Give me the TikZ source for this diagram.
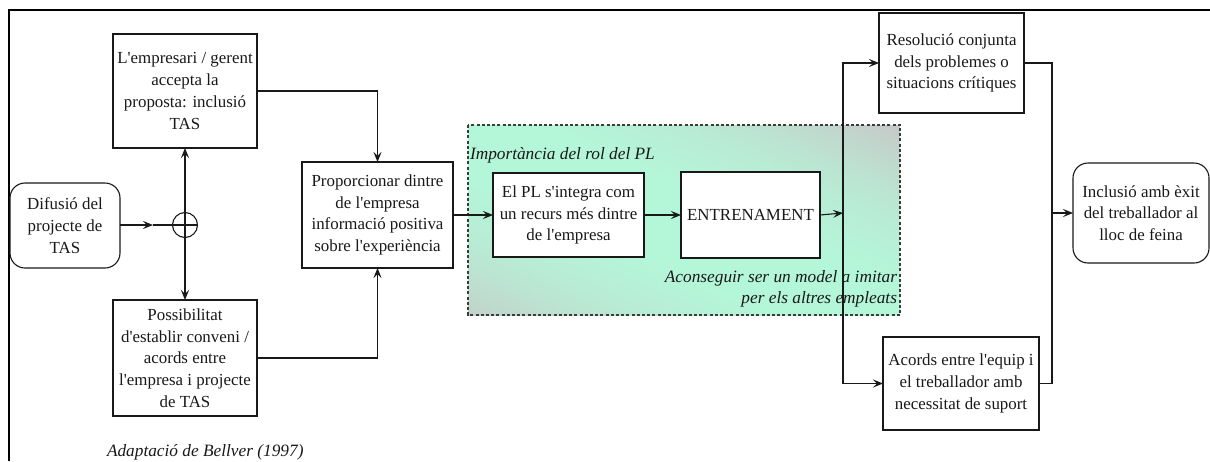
\documentclass[tikz,border=0pt]{standalone}
\usepackage{fontspec}
\setmainfont{Liberation Serif}[Ligatures=TeXOff]
\usetikzlibrary{arrows.meta}
\definecolor{ink}{RGB}{25,25,25}
\begin{document}
\begin{tikzpicture}[x=1pt,y=-1pt,
  every node/.style={inner sep=0pt, outer sep=0pt},
  box/.style={draw=ink, line width=1.1pt, fill=white, align=center, text=ink, font=\fontsize{16.9}{21.7}\selectfont},
  rbox/.style={box, rounded corners=15pt},
  arr/.style={draw=ink, line width=1.1pt, -{Stealth[length=10pt,width=8pt,inset=4pt]}},
  ln/.style={draw=ink, line width=1.1pt},
  itx/.style={font=\fontsize{17.3}{21.5}\selectfont\itshape, text=ink}]
\useasboundingbox (0,0) rectangle (1210,461);
% frame
\draw[line width=1.7pt, black] (9,461) -- (9,10) -- (1210,10);
% shaded region (grey - mint - grey, diagonal)
\begin{scope}
  \clip (468,125) rectangle (900,315);
  \begin{scope}[shift={(684,220)}, rotate=66.3]
    \foreach \i in {0,...,77} {
      \pgfmathsetmacro{\ta}{-195+5*\i}
      \pgfmathsetmacro{\tb}{\ta+6}
      \pgfmathsetmacro{\tm}{(\ta+2.5+10)/185}
      \pgfmathsetmacro{\pp}{max(0,1-\tm*\tm)}
      \pgfmathtruncatemacro{\vr}{200-20*\pp}
      \pgfmathtruncatemacro{\vg}{200+48*\pp}
      \pgfmathtruncatemacro{\vb}{200+17*\pp}
      \definecolor{cc}{RGB}{\vr,\vg,\vb}
      \fill[cc] (\ta,-300) rectangle (\tb,300);
    }
  \end{scope}
\end{scope}
\draw[draw=ink!85, line width=1.3pt, dash pattern=on 3pt off 2.2pt] (468,125) rectangle (900,315);
\node[itx, anchor=west] (imp) at (470,155) {Importància del rol del PL};
\node[itx, anchor=north east, align=right] (acons) at (897,270) {Aconseguir ser un model a imitar\\per els altres empleats};
% nodes
\node[box, minimum width=144pt, minimum height=114pt] (lemp) at (185,91) {L'empresari / gerent\\accepta la\\proposta: inclusió\\TAS};
\node[rbox, minimum width=110pt, minimum height=85pt] (dif) at (65,225.5) {Difusió del\\projecte de\\TAS};
\node[draw=ink, line width=1.1pt, circle, minimum size=25pt] (circ) at (185,225) {};
\node[box, minimum width=144pt, minimum height=116pt] (poss) at (185,358) {Possibilitat\\d'establir conveni /\\acords entre\\l'empresa i projecte\\de TAS};
\node[box, minimum width=151pt, minimum height=106pt] (prop) at (377.5,215) {Proporcionar dintre\\de l'empresa\\informació positiva\\sobre l'experiència};
\node[box, minimum width=151pt, minimum height=84pt] (elpl) at (568.5,215) {El PL s'integra com\\un recurs més dintre\\de l'empresa};
\node[box, minimum width=139pt, minimum height=86pt] (entr) at (750.5,215) {ENTRENAMENT};
\node[box, minimum width=145pt, minimum height=100pt] (res) at (951.5,63) {Resolució conjunta\\dels problemes o\\situacions crítiques};
\node[box, minimum width=156pt, minimum height=93pt] (acords) at (961,383.5) {Acords entre l'equip i\\el treballador amb\\necessitat de suport};
\node[rbox, minimum width=136pt, minimum height=100pt] (incl) at (1141,213) {Inclusió amb èxit\\del treballador al\\lloc de feina};
\node[itx, anchor=west] (src) at (107,452) {Adaptació de Bellver (1997)};
% junction coordinates
\coordinate (mid) at (153,225);
\coordinate (jn) at (843,213);
\coordinate (jr) at (1052,213);
% connectors
\draw[arr] (dif.east |- mid) -- (mid);
\draw[ln] (mid) -- (circ.west);
\draw[ln] (circ.west) -- (circ.east);
\draw[arr] (circ.center) -- (lemp.south);
\draw[arr] (circ.center) -- (poss.north);
\draw[arr] (lemp.east) -| (prop.north);
\draw[arr] (poss.east) -| (prop.south);
\draw[arr] (prop.east) -- (elpl.west);
\draw[arr] (elpl.east) -- (entr.west);
\draw[arr] (entr.east) -- (jn);
\draw[arr] (jn) |- (res.west);
\draw[arr] (jn) |- (acords.west);
\draw[ln] (res.east) -| (jr);
\draw[ln] (acords.east) -| (jr);
\draw[arr] (jr) -- (incl.west);
\end{tikzpicture}
\end{document}
